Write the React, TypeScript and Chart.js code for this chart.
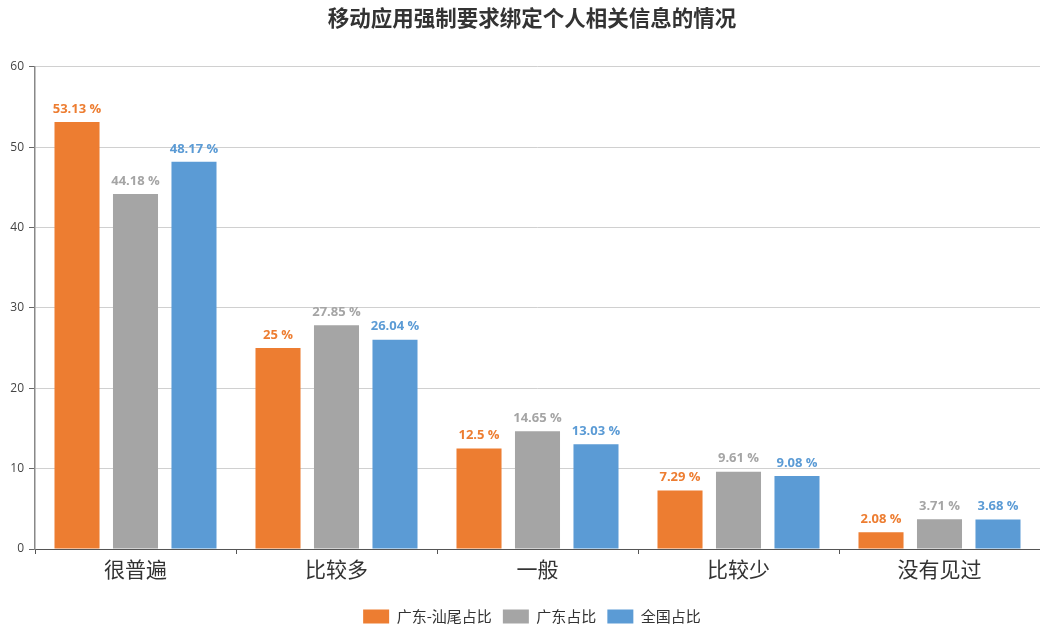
import React, { useEffect, useRef } from "react";
import { Chart, registerables } from "chart.js";

Chart.register(...registerables);

const titleText = "移动应用强制要求绑定个人相关信息的情况";
const categories = ["很普遍", "比较多", "一般", "比较少", "没有见过"];
const seriesNames = ["广东-汕尾占比", "广东占比", "全国占比"];
const shanweiValues = [53.13, 25, 12.5, 7.29, 2.08];
const guangdongValues = [44.18, 27.85, 14.65, 9.61, 3.71];
const nationalValues = [48.17, 26.04, 13.03, 9.08, 3.68];
const seriesColors = ["#ED7D31", "#A5A5A5", "#5B9BD5"];
const yTicks = [0, 10, 20, 30, 40, 50, 60];

const FONT = "'Noto Sans CJK SC', 'Noto Sans', sans-serif";
const NUM_FONT = "'Open Sans', 'Noto Sans', sans-serif";

const valueLabelPlugin = {
  id: "valueLabels",
  afterDatasetsDraw(chart: any) {
    const ctx = chart.ctx;
    ctx.save();
    ctx.font = `bold 13px ${NUM_FONT}`;
    ctx.textAlign = "center";
    ctx.textBaseline = "middle";
    chart.data.datasets.forEach((ds: any, i: number) => {
      const meta = chart.getDatasetMeta(i);
      if (meta.hidden) return;
      meta.data.forEach((bar: any, j: number) => {
        ctx.fillStyle = ds.backgroundColor;
        ctx.fillText(`${ds.data[j]} %`, bar.x, bar.y - 13);
      });
    });
    ctx.restore();
  },
};

// shift title and legend slightly right, as in the reference
const shiftPlugin = {
  id: "shiftBlocks",
  afterLayout(chart: any) {
    const dx = 11;
    [chart.titleBlock, chart.legend].forEach((b: any) => {
      if (b) {
        b.left += dx;
        b.right += dx;
      }
    });
  },
};

export default function App() {
  const ref = useRef<HTMLCanvasElement>(null);
  useEffect(() => {
    document.body.style.margin = "0";
    const allSeries = [shanweiValues, guangdongValues, nationalValues];
    const chart = new Chart(ref.current!, {
      type: "bar",
      data: {
        labels: categories,
        datasets: allSeries.map((vals, i) => ({
          label: seriesNames[i],
          data: vals,
          backgroundColor: seriesColors[i],
          categoryPercentage: 0.873,
          barPercentage: 0.77,
        })),
      },
      options: {
        responsive: false,
        animation: false,
        layout: { padding: { left: 0, right: -2, top: 0, bottom: -6 } },
        plugins: {
          title: {
            display: true,
            text: titleText,
            color: "#333",
            font: { family: FONT, size: 21.5, weight: "bold" },
            padding: { top: 5, bottom: 36 },
          },
          legend: {
            position: "bottom",
            labels: {
              boxWidth: 26,
              boxHeight: 14,
              padding: 11,
              color: "#333",
              font: { family: FONT, size: 15 },
            },
          },
          tooltip: { enabled: false },
        },
        scales: {
          x: {
            grid: {
              offset: true,
              drawOnChartArea: false,
              drawTicks: true,
              tickLength: 5,
              tickColor: "#555",
            },
            border: { color: "#555", width: 1 },
            ticks: {
              color: "#333",
              padding: 2,
              font: { family: FONT, size: 21 },
            },
            afterFit: (scale: any) => {
              scale.height = 49;
            },
          },
          y: {
            min: 0,
            max: 60,
            afterBuildTicks: (scale: any) => {
              scale.ticks = yTicks.map((v) => ({ value: v }));
            },
            grid: {
              color: "#d0d0d0",
              tickLength: 6,
              tickColor: "#666",
            },
            border: { color: "#888", width: 1.5 },
            ticks: {
              color: "#444",
              padding: 5,
              font: { family: NUM_FONT, size: 12 },
            },
            afterFit: (scale: any) => {
              scale.width = 35;
            },
          },
        },
      },
      plugins: [valueLabelPlugin, shiftPlugin],
    });
    return () => chart.destroy();
  }, []);
  return <canvas ref={ref} width={1040} height={628} style={{ display: "block" }} />;
}
